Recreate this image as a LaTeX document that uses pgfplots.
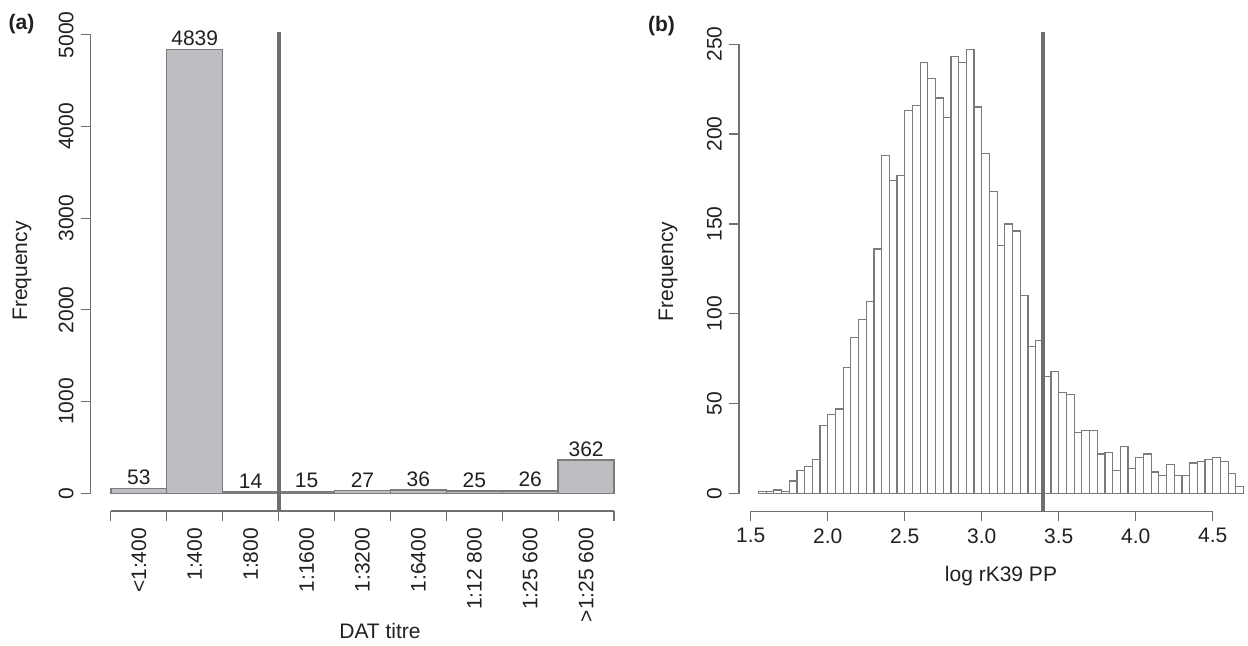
\documentclass[border=0pt]{standalone}
\usepackage{pgfplots}
\pgfplotsset{compat=1.18}
\usepackage{fontspec}
\setmainfont{Liberation Sans}
\definecolor{barfill}{HTML}{BDBEC1}
\definecolor{baredge}{HTML}{7A7B7D}
\definecolor{vline}{HTML}{6D6E71}
\definecolor{axcol}{HTML}{707070}
\definecolor{txt}{HTML}{231F20}
\newcommand{\fs}{\fontsize{10.5}{12}\selectfont}
\pgfplotsset{
  rstyle/.style={
    scale only axis, clip=false,
    axis lines=left, axis line style={draw=none,-},
    tick align=outside, major tick length=5pt,
    every tick/.style={axcol, line width=0.6pt},
    tick label style={font=\fs, text=txt},
    /pgf/number format/assume math mode=true,
    /pgf/number format/1000 sep={},
    xtick pos=bottom, ytick pos=left,
  }
}
\begin{document}
\begin{tikzpicture}
% panel (a)
\begin{axis}[rstyle,
  at={(45.35pt,67.5pt)}, anchor=south west,
  width=271.75pt, height=239.65pt,
  xmin=-0.36, xmax=9.36, ymin=-193.56, ymax=5032.56,
  ytick={0,1000,2000,3000,4000,5000},
  yticklabel style={rotate=90, anchor=south},
  xtick={0,1,2,3,4,5,6,7,8,9},
  x tick label as interval,
  xticklabels={{<1:400},{1:400},{1:800},{1:1600},{1:3200},{1:6400},{1:12 800},{1:25 600},{>1:25 600}},
  xticklabel style={rotate=90, anchor=east},
]
\addplot[ybar, bar width=1, fill=barfill, draw=baredge, line width=0.7pt,
  point meta=explicit symbolic,
  nodes near coords, every node near coord/.style={font=\fs, text=txt, anchor=south, inner sep=1.5pt}]
  coordinates {(0.5,53) [53] (1.5,4839) [4839] (2.5,14) [14] (3.5,15) [15] (4.5,27) [27]
               (5.5,36) [36] (6.5,25) [25] (7.5,26) [26] (8.5,362) [362]};
\addplot[vline, line width=2pt] coordinates {(3,-193.56) (3,5032.56)};
\draw[axcol, line width=0.6pt] (axis cs:0,-193.56) -- (axis cs:9,-193.56);
\draw[axcol, line width=0.6pt] (axis cs:-0.36,0) -- (axis cs:-0.36,5000);
\end{axis}
% panel (b)
\begin{axis}[rstyle,
  at={(369.5pt,67.35pt)}, anchor=south west,
  width=254.5pt, height=239.75pt,
  xmin=1.424, xmax=4.729, ymin=-9.88, ymax=256.88,
  ytick={0,50,100,150,200,250},
  yticklabel style={rotate=90, anchor=south},
  xtick={1.5,2.0,2.5,3.0,3.5,4.0,4.5},
  xticklabel style={/pgf/number format/fixed, /pgf/number format/fixed zerofill, /pgf/number format/precision=1},
]
\addplot[ybar interval, fill=white, draw=baredge, line width=0.6pt] coordinates {
(1.55,1) (1.60,1) (1.65,2) (1.70,1) (1.75,7) (1.80,13) (1.85,15) (1.90,19) (1.95,38)
(2.00,44) (2.05,47) (2.10,70) (2.15,87) (2.20,97) (2.25,107) (2.30,136) (2.35,188)
(2.40,174) (2.45,177) (2.50,213) (2.55,216) (2.60,240) (2.65,231) (2.70,220) (2.75,209)
(2.80,243) (2.85,240) (2.90,247) (2.95,215) (3.00,189) (3.05,168) (3.10,138) (3.15,150)
(3.20,146) (3.25,110) (3.30,82) (3.35,85) (3.40,65) (3.45,68) (3.50,56) (3.55,55)
(3.60,34) (3.65,35) (3.70,35) (3.75,22) (3.80,23) (3.85,13) (3.90,26) (3.95,14)
(4.00,20) (4.05,22) (4.10,12) (4.15,10) (4.20,16) (4.25,10) (4.30,10) (4.35,17)
(4.40,18) (4.45,19) (4.50,20) (4.55,18) (4.60,11) (4.65,4) (4.70,4)};
\addplot[vline, line width=2pt] coordinates {(3.4,-9.88) (3.4,256.88)};
\draw[axcol, line width=0.6pt] (axis cs:1.5,-9.88) -- (axis cs:4.5,-9.88);
\draw[axcol, line width=0.6pt] (axis cs:1.424,0) -- (axis cs:1.424,250);
\end{axis}
% labels
\node[font=\fs, text=txt, rotate=90] at (11pt,187.5pt) {Frequency};
\node[font=\fs, text=txt] at (190pt,7.5pt) {DAT titre};
\node[font=\fs, text=txt, rotate=90] at (334pt,187.25pt) {Frequency};
\node[font=\fs, text=txt] at (500.5pt,35pt) {log rK39 PP};
\node[font=\fs\bfseries, text=txt] at (10.75pt,311pt) {(a)};
\node[font=\fs\bfseries, text=txt] at (330.75pt,309.75pt) {(b)};
\pgfresetboundingbox
\path[use as bounding box] (0,0) rectangle (624pt,323pt);
\end{tikzpicture}
\end{document}
